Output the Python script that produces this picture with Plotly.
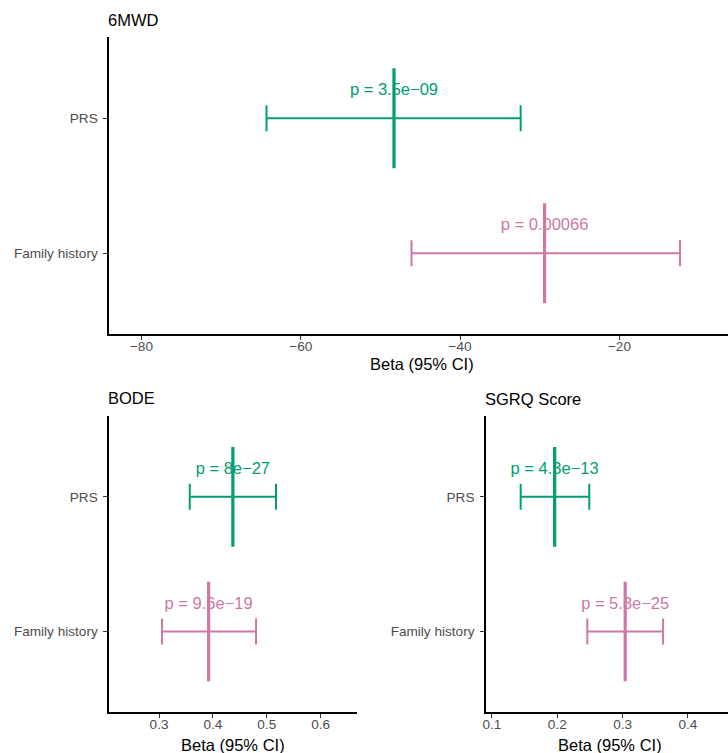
import plotly.graph_objects as go

# ---------------- data ----------------
outcomes = ["6MWD", "BODE", "SGRQ Score"]
predictors = ["PRS", "Family history"]

beta_prs = [-48.3, 0.437, 0.196]
lo_prs = [-64.3, 0.357, 0.144]
hi_prs = [-32.4, 0.517, 0.249]
p_prs = ["3.5e\u221209", "8e\u221227", "4.3e\u221213"]

beta_fh = [-29.4, 0.392, 0.304]
lo_fh = [-46.1, 0.3055, 0.246]
hi_fh = [-12.4, 0.480, 0.362]
p_fh = ["0.00066", "9.6e\u221219", "5.3e\u221225"]

x_ticks = [[-80, -60, -40, -20], [0.3, 0.4, 0.5, 0.6], [0.1, 0.2, 0.3, 0.4]]
x_ticktext = [["\u221280", "\u221260", "\u221240", "\u221220"],
              ["0.3", "0.4", "0.5", "0.6"],
              ["0.1", "0.2", "0.3", "0.4"]]
x_ranges = [[-84.04, -6.375], [0.2076, 0.6665], [0.0909, 0.4614]]

# ---------------- style / layout ----------------
W, H = 728, 753
FONT = "Liberation Sans, Arial, Helvetica, sans-serif"
GREEN = "#009E73"
PINK = "#CC79A7"
TICKCOL = "#4D4D4D"

# panel boxes in pixels: (left, right, top, bottom)
panels = [(106.7, 728, 37.3, 334.3), (106.7, 355, 416, 712.3), (485, 728, 416, 712.3)]
title_pos = [(103.5, 20), (103.5, 397.5), (481.8, 398.5)]
xtitle_pos = [(420.5, 364), (231, 745), (609.8, 745)]

ypos = {"PRS": 2, "Family history": 1}
HALF = 0.37     # half-height of the vertical beta marker (category units)
LABEL_OFF = 0.2  # p-label offset above the row

fig = go.Figure()
annotations = []

for i, outcome in enumerate(outcomes):
    sfx = "" if i == 0 else str(i + 1)
    xa, ya = "x" + sfx, "y" + sfx
    rows = [
        ("PRS", beta_prs[i], lo_prs[i], hi_prs[i], p_prs[i], GREEN),
        ("Family history", beta_fh[i], lo_fh[i], hi_fh[i], p_fh[i], PINK),
    ]
    for pred, b, lo, hi, p, col in rows:
        y = ypos[pred]
        # p-value label (drawn first so the marker overlaps it)
        fig.add_trace(go.Scatter(
            x=[b], y=[y + LABEL_OFF], mode="text", text=["p = " + p],
            textposition="middle center",
            textfont=dict(family=FONT, size=16.5, color=col),
            xaxis=xa, yaxis=ya, showlegend=False, hoverinfo="skip"))
        # confidence interval
        fig.add_trace(go.Scatter(
            x=[b], y=[y], mode="markers",
            marker=dict(size=1, opacity=0, color=col),
            error_x=dict(type="data", symmetric=False, array=[hi - b], arrayminus=[b - lo],
                         color=col, thickness=2, width=13),
            xaxis=xa, yaxis=ya, showlegend=False, hoverinfo="skip"))
        # vertical beta marker
        fig.add_trace(go.Scatter(
            x=[b, b], y=[y - HALF, y + HALF], mode="lines",
            line=dict(color=col, width=3.2),
            xaxis=xa, yaxis=ya, showlegend=False, hoverinfo="skip"))

    l, r, t, btm = panels[i]
    common = dict(showgrid=False, zeroline=False, showline=True, linecolor="black",
                  linewidth=1.6, ticks="outside", ticklen=4, tickwidth=1.1,
                  tickcolor="#333333", tickfont=dict(family=FONT, size=13.6, color=TICKCOL),
                  fixedrange=True)
    fig.update_layout(**{
        "xaxis" + sfx: dict(domain=[l / W, r / W], range=x_ranges[i], tickmode="array",
                            tickvals=x_ticks[i], ticktext=x_ticktext[i],
                            anchor=ya, ticklabelstandoff=-5, **common),
        "yaxis" + sfx: dict(domain=[1 - btm / H, 1 - t / H], range=[0.4, 2.6],
                            tickmode="array", tickvals=[ypos[p] for p in predictors],
                            ticktext=predictors, anchor=xa, ticklabelstandoff=3, **common),
    })

    tx, ty = title_pos[i]
    annotations.append(dict(text=outcome, x=tx / W, y=1 - ty / H, xref="paper", yref="paper",
                            xanchor="left", yanchor="middle", showarrow=False,
                            font=dict(family=FONT, size=16.5, color="black")))
    ax_x, ax_y = xtitle_pos[i]
    annotations.append(dict(text="Beta (95% CI)", x=ax_x / W, y=1 - ax_y / H, xref="paper",
                            yref="paper", xanchor="center", yanchor="middle", showarrow=False,
                            font=dict(family=FONT, size=16.5, color="black")))

fig.update_layout(
    width=W, height=H, margin=dict(l=0, r=0, t=0, b=0),
    paper_bgcolor="white", plot_bgcolor="white",
    annotations=annotations, hovermode=False, showlegend=False,
)

fig.write_html("out.html", config={"displayModeBar": False})
